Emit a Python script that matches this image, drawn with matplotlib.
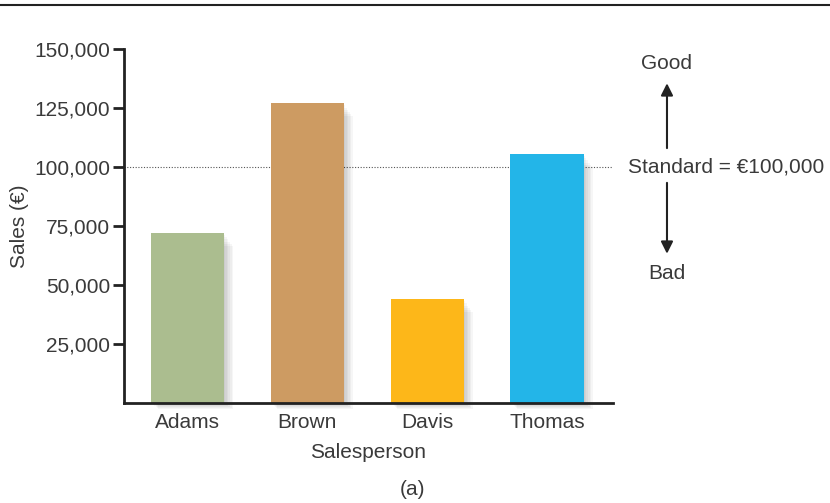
import matplotlib.pyplot as plt
import matplotlib.lines as mlines

plt.rcParams['font.family'] = ['Liberation Sans', 'DejaVu Sans']

names = ['Adams', 'Brown', 'Davis', 'Thomas']
sales = [72000, 127000, 44000, 105500]
colors = ['#abbd8f', '#cd9b62', '#fdb719', '#23b5e8']
yticks = [25000, 50000, 75000, 100000, 125000, 150000]
standard = 100000

txt = '#3a3a3a'
fs = 15
fig = plt.figure(figsize=(8.3, 5.03), dpi=100)
ax = fig.add_axes([0.1494, 0.1988, 0.589, 0.7038])

x = range(len(names))
# soft shadow behind bars
for k in range(6):
    off = 0.011 * (k + 1)
    ax.bar([i + off for i in x], [s - 450 * (k + 1) for s in sales], width=0.61 + 0.004 * k,
           bottom=[-450 * (k + 1)] * len(sales), color='black', alpha=0.035, zorder=1, clip_on=False)
ax.bar(x, sales, width=0.61, color=colors, zorder=2)

ax.axhline(standard, color='#555555', linestyle=(0, (1, 1.5)), linewidth=0.8, zorder=0)

ax.set_xlim(-0.53, 3.55)
ax.set_ylim(0, 150000)
ax.set_yticks(yticks)
ax.set_yticklabels([f'{v:,}' for v in yticks], color=txt, fontsize=fs)
ax.set_xticks(list(x))
ax.set_xticklabels(names, color=txt, fontsize=fs)
ax.tick_params(axis='y', direction='out', length=8, width=2, color='#222222', pad=2)
ax.tick_params(axis='x', length=0, pad=7)
for s in ['top', 'right']:
    ax.spines[s].set_visible(False)
for s in ['left', 'bottom']:
    ax.spines[s].set_linewidth(2)
    ax.spines[s].set_color('#222222')

ax.set_ylabel('Sales (€)', color=txt, fontsize=fs, labelpad=4)
ax.set_xlabel('Salesperson', color=txt, fontsize=fs, labelpad=8)

fig.text(0.497, 0.026, '(a)', ha='center', va='center', color=txt, fontsize=fs)
fig.add_artist(mlines.Line2D([0, 1], [0.99, 0.99], color='#222222', linewidth=1.5))

# standard annotation
fig.text(0.875, 0.668, 'Standard = €100,000', ha='center', va='center', color=txt, fontsize=fs)
fig.text(0.8036, 0.874, 'Good', ha='center', va='center', color=txt, fontsize=fs)
fig.text(0.8036, 0.457, 'Bad', ha='center', va='center', color=txt, fontsize=fs)
ax.annotate('', xy=(0.8036, 0.84), xytext=(0.8036, 0.70), xycoords='figure fraction',
            arrowprops=dict(arrowstyle='-|>', color='#222222', lw=1.5, mutation_scale=18))
ax.annotate('', xy=(0.8036, 0.49), xytext=(0.8036, 0.642), xycoords='figure fraction',
            arrowprops=dict(arrowstyle='-|>', color='#222222', lw=1.5, mutation_scale=18))

fig.savefig('out.png', dpi=100)
